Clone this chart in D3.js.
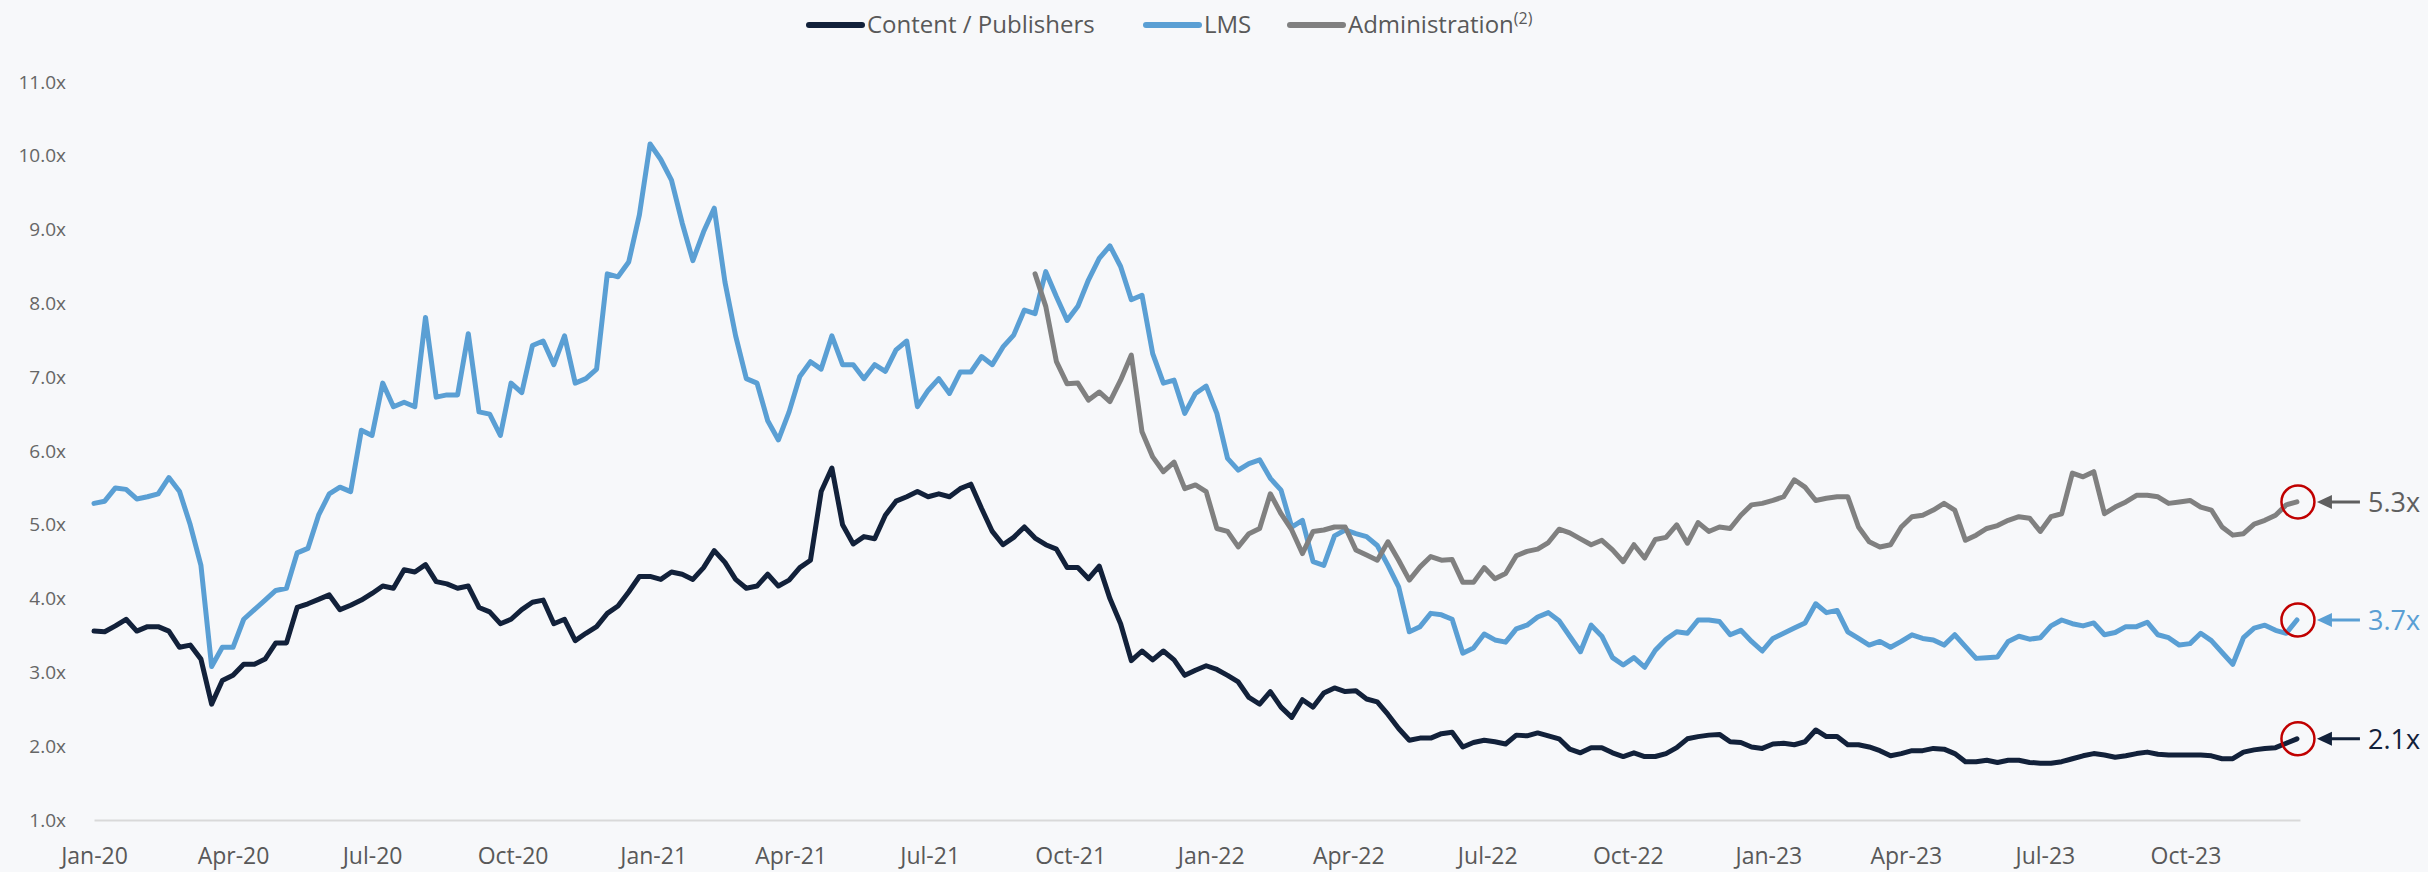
<!DOCTYPE html>
<html>
<head>
<meta charset="utf-8">
<script src="https://cdn.jsdelivr.net/npm/d3@7/dist/d3.min.js"></script>
<style>
    html, body { margin: 0; padding: 0; background: #f7f8fa; }
    svg { display: block; font-family: "Open Sans", Lato, sans-serif; }
</style>
</head>
<body>
<div id="chart"></div>
<script>
// weekly EV / revenue multiples
var contentStart = "2020-01-01";
var contentValues = [
    3.56, 3.55, 3.63, 3.72, 3.56, 3.62, 3.62, 3.56, 3.34, 3.37, 3.18, 2.57, 2.89, 2.96, 3.11, 3.11,
    3.18, 3.40, 3.40, 3.88, 3.93, 3.99, 4.05, 3.85, 3.91, 3.98, 4.07, 4.17, 4.14, 4.39, 4.36, 4.46,
    4.23, 4.20, 4.14, 4.17, 3.88, 3.82, 3.66, 3.72, 3.85, 3.95, 3.98, 3.66, 3.72, 3.43, 3.53, 3.62,
    3.80, 3.90, 4.09, 4.30, 4.30, 4.26, 4.36, 4.33, 4.26, 4.42, 4.65, 4.49, 4.26, 4.14, 4.17, 4.33,
    4.17, 4.25, 4.42, 4.52, 5.45, 5.77, 5.00, 4.74, 4.84, 4.81, 5.13, 5.32, 5.38, 5.45, 5.38, 5.42,
    5.38, 5.49, 5.55, 5.22, 4.91, 4.73, 4.83, 4.97, 4.82, 4.73, 4.67, 4.42, 4.42, 4.27, 4.44, 4.00,
    3.66, 3.16, 3.29, 3.17, 3.29, 3.17, 2.96, 3.03, 3.09, 3.04, 2.96, 2.87, 2.66, 2.57, 2.74, 2.53,
    2.39, 2.63, 2.53, 2.72, 2.79, 2.74, 2.75, 2.64, 2.60, 2.43, 2.24, 2.08, 2.11, 2.11, 2.17, 2.19,
    1.99, 2.05, 2.08, 2.06, 2.03, 2.15, 2.14, 2.18, 2.14, 2.10, 1.96, 1.91, 1.98, 1.98, 1.91, 1.86,
    1.91, 1.86, 1.86, 1.90, 1.98, 2.10, 2.13, 2.15, 2.16, 2.06, 2.05, 1.99, 1.97, 2.03, 2.04, 2.02,
    2.06, 2.22, 2.13, 2.13, 2.02, 2.02, 1.99, 1.94, 1.87, 1.90, 1.94, 1.94, 1.97, 1.96, 1.90, 1.79,
    1.79, 1.81, 1.78, 1.81, 1.81, 1.78, 1.77, 1.77, 1.79, 1.83, 1.87, 1.90, 1.88, 1.85, 1.87, 1.90,
    1.92, 1.89, 1.88, 1.88, 1.88, 1.88, 1.87, 1.83, 1.83, 1.92, 1.95, 1.97, 1.98, 2.04, 2.10
];
var lmsStart = "2020-01-01";
var lmsValues = [
    5.29, 5.32, 5.50, 5.48, 5.35, 5.38, 5.42, 5.64, 5.45, 5.00, 4.45, 3.08, 3.34, 3.34, 3.72, 3.85,
    3.98, 4.11, 4.14, 4.62, 4.68, 5.13, 5.42, 5.51, 5.45, 6.28, 6.21, 6.92, 6.60, 6.66, 6.60, 7.81,
    6.73, 6.76, 6.76, 7.59, 6.53, 6.50, 6.21, 6.92, 6.79, 7.43, 7.49, 7.17, 7.56, 6.92, 6.98, 7.11,
    8.40, 8.36, 8.56, 9.20, 10.16, 9.95, 9.67, 9.09, 8.58, 8.97, 9.29, 8.29, 7.56, 6.98, 6.92, 6.41,
    6.15, 6.53, 7.01, 7.21, 7.11, 7.56, 7.17, 7.17, 6.98, 7.17, 7.08, 7.37, 7.49, 6.60, 6.82, 6.98,
    6.78, 7.07, 7.07, 7.28, 7.17, 7.41, 7.57, 7.91, 7.86, 8.43, 8.09, 7.77, 7.96, 8.32, 8.61, 8.78,
    8.50, 8.05, 8.11, 7.32, 6.92, 6.96, 6.51, 6.78, 6.88, 6.51, 5.90, 5.74, 5.83, 5.88, 5.63, 5.47,
    4.97, 5.06, 4.50, 4.45, 4.85, 4.93, 4.88, 4.84, 4.72, 4.45, 4.16, 3.55, 3.62, 3.80, 3.78, 3.72,
    3.26, 3.33, 3.52, 3.44, 3.41, 3.59, 3.64, 3.75, 3.81, 3.70, 3.49, 3.28, 3.64, 3.49, 3.20, 3.10,
    3.20, 3.07, 3.30, 3.45, 3.55, 3.53, 3.71, 3.71, 3.69, 3.51, 3.57, 3.42, 3.29, 3.46, 3.53, 3.60,
    3.67, 3.93, 3.81, 3.84, 3.55, 3.46, 3.37, 3.42, 3.34, 3.42, 3.51, 3.46, 3.44, 3.37, 3.51, 3.35,
    3.19, 3.20, 3.21, 3.42, 3.49, 3.45, 3.47, 3.63, 3.71, 3.66, 3.63, 3.67, 3.51, 3.54, 3.62, 3.62,
    3.68, 3.51, 3.47, 3.37, 3.39, 3.53, 3.43, 3.27, 3.11, 3.47, 3.60, 3.64, 3.57, 3.53, 3.71
];
var adminStart = "2021-09-08";
var adminValues = [
    8.40, 7.96, 7.21, 6.91, 6.92, 6.69, 6.80, 6.67, 6.96, 7.30, 6.26, 5.92, 5.72, 5.85, 5.49, 5.54,
    5.45, 4.95, 4.91, 4.70, 4.88, 4.95, 5.42, 5.15, 4.93, 4.61, 4.91, 4.93, 4.97, 4.97, 4.66, 4.59,
    4.52, 4.77, 4.52, 4.25, 4.43, 4.57, 4.52, 4.53, 4.22, 4.22, 4.42, 4.27, 4.34, 4.58, 4.64, 4.67,
    4.76, 4.94, 4.89, 4.81, 4.73, 4.79, 4.66, 4.50, 4.73, 4.55, 4.80, 4.83, 5.00, 4.75, 5.03, 4.91,
    4.97, 4.95, 5.13, 5.27, 5.29, 5.33, 5.38, 5.61, 5.51, 5.33, 5.36, 5.38, 5.38, 4.97, 4.77, 4.70,
    4.73, 4.97, 5.11, 5.13, 5.20, 5.29, 5.20, 4.79, 4.86, 4.95, 4.99, 5.06, 5.11, 5.09, 4.91, 5.11,
    5.15, 5.70, 5.65, 5.72, 5.15, 5.24, 5.31, 5.40, 5.40, 5.38, 5.29, 5.31, 5.33, 5.24, 5.20, 4.97,
    4.86, 4.88, 5.01, 5.06, 5.13, 5.27, 5.31
];

var seriesNames = ["Content / Publishers", "LMS", "Administration"];
var seriesColors = ["#12213a", "#5a9fd4", "#808080"];
var endLabels = ["2.1x", "3.7x", "5.3x"];
var endLabelColors = ["#12213a", "#5a9fd4", "#5f5f5f"];
var yTicks = [1, 2, 3, 4, 5, 6, 7, 8, 9, 10, 11];
var xStart = "2020-01-01";
var xEnd = "2023-12-15";

var parse = d3.timeParse("%Y-%m-%d");

function weekly(start, values) {
    var t0 = parse(start);
    return values.map(function (v, i) {
        return { date: d3.timeDay.offset(t0, 7 * i), value: v };
    });
}

var series = [
    weekly(contentStart, contentValues),
    weekly(lmsStart, lmsValues),
    weekly(adminStart, adminValues)
];

var svg = d3.select("#chart").append("svg")
    .attr("width", 2428)
    .attr("height", 872);

svg.append("rect").attr("width", 2428).attr("height", 872).attr("fill", "#f7f8fa");

var x = d3.scaleTime().domain([parse(xStart), parse(xEnd)]).range([94, 2300]);
var y = d3.scaleLinear().domain([1, 11]).range([820, 82]);

// x axis: quarter labels
var xAxis = d3.axisBottom(x)
    .tickValues(d3.timeMonth.every(3).range(parse(xStart), parse("2023-12-01")))
    .tickFormat(d3.timeFormat("%b-%y"))
    .tickSize(0)
    .tickSizeOuter(0);

var gx = svg.append("g").attr("transform", "translate(0,820)").call(xAxis);
gx.select(".domain").attr("stroke", "#d9d9d9").attr("stroke-width", 2);
gx.selectAll("text")
    .attr("y", 44)
    .attr("dy", 0)
    .attr("fill", "#595959")
    .style("font-size", "23px")
    .style("font-family", "'Open Sans', sans-serif");

// y axis: labels only
var yAxis = d3.axisLeft(y)
    .tickValues(yTicks)
    .tickFormat(function (d) { return d.toFixed(1) + "x"; })
    .tickSize(0)
    .tickPadding(0);

var gy = svg.append("g").attr("transform", "translate(66,0)").call(yAxis);
gy.select(".domain").remove();
gy.selectAll("text")
    .attr("fill", "#666666")
    .style("font-size", "19px")
    .style("font-family", "'Open Sans', sans-serif");

// lines
var line = d3.line()
    .x(function (d) { return x(d.date); })
    .y(function (d) { return y(d.value); });

svg.append("g").selectAll("path").data(series).enter()
    .append("path")
    .attr("d", line)
    .attr("fill", "none")
    .attr("stroke", function (d, i) { return seriesColors[i]; })
    .attr("stroke-width", 5)
    .attr("stroke-linejoin", "round")
    .attr("stroke-linecap", "round");

// end markers: red circle, arrow, value label
var ends = svg.append("g");
series.forEach(function (s, i) {
    var last = s[s.length - 1];
    var cx = x(last.date) + 1, cy = y(last.value);
    ends.append("circle")
        .attr("cx", cx).attr("cy", cy).attr("r", 16.5)
        .attr("fill", "none").attr("stroke", "#c00000").attr("stroke-width", 2.5);
    var tip = cx + 19;
    ends.append("line")
        .attr("x1", tip + 10).attr("x2", tip + 43)
        .attr("y1", cy).attr("y2", cy)
        .attr("stroke", endLabelColors[i]).attr("stroke-width", 3);
    ends.append("path")
        .attr("d", "M" + tip + "," + cy + "L" + (tip + 15) + "," + (cy - 7) + "L" + (tip + 15) + "," + (cy + 7) + "Z")
        .attr("fill", endLabelColors[i]);
    ends.append("text")
        .attr("x", tip + 51).attr("y", cy)
        .attr("dy", "0.36em")
        .attr("fill", endLabelColors[i])
        .style("font-size", "27px")
        .text(endLabels[i]);
});

// legend
var legendLineX = [809, 1146, 1290];
var legend = svg.append("g").attr("transform", "translate(0,25)");
seriesNames.forEach(function (name, i) {
    legend.append("line")
        .attr("x1", legendLineX[i]).attr("x2", legendLineX[i] + 53)
        .attr("y1", 0).attr("y2", 0)
        .attr("stroke", seriesColors[i]).attr("stroke-width", 6).attr("stroke-linecap", "round");
    var t = legend.append("text")
        .attr("x", legendLineX[i] + 58).attr("y", 0)
        .attr("dy", "0.35em")
        .attr("fill", "#595959")
        .style("font-size", "24px");
    t.append("tspan").text(name);
    if (i == 2) {
        t.append("tspan").attr("dy", "-0.6em").style("font-size", "16px").text("(2)");
    }
});
</script>
</body>
</html>
